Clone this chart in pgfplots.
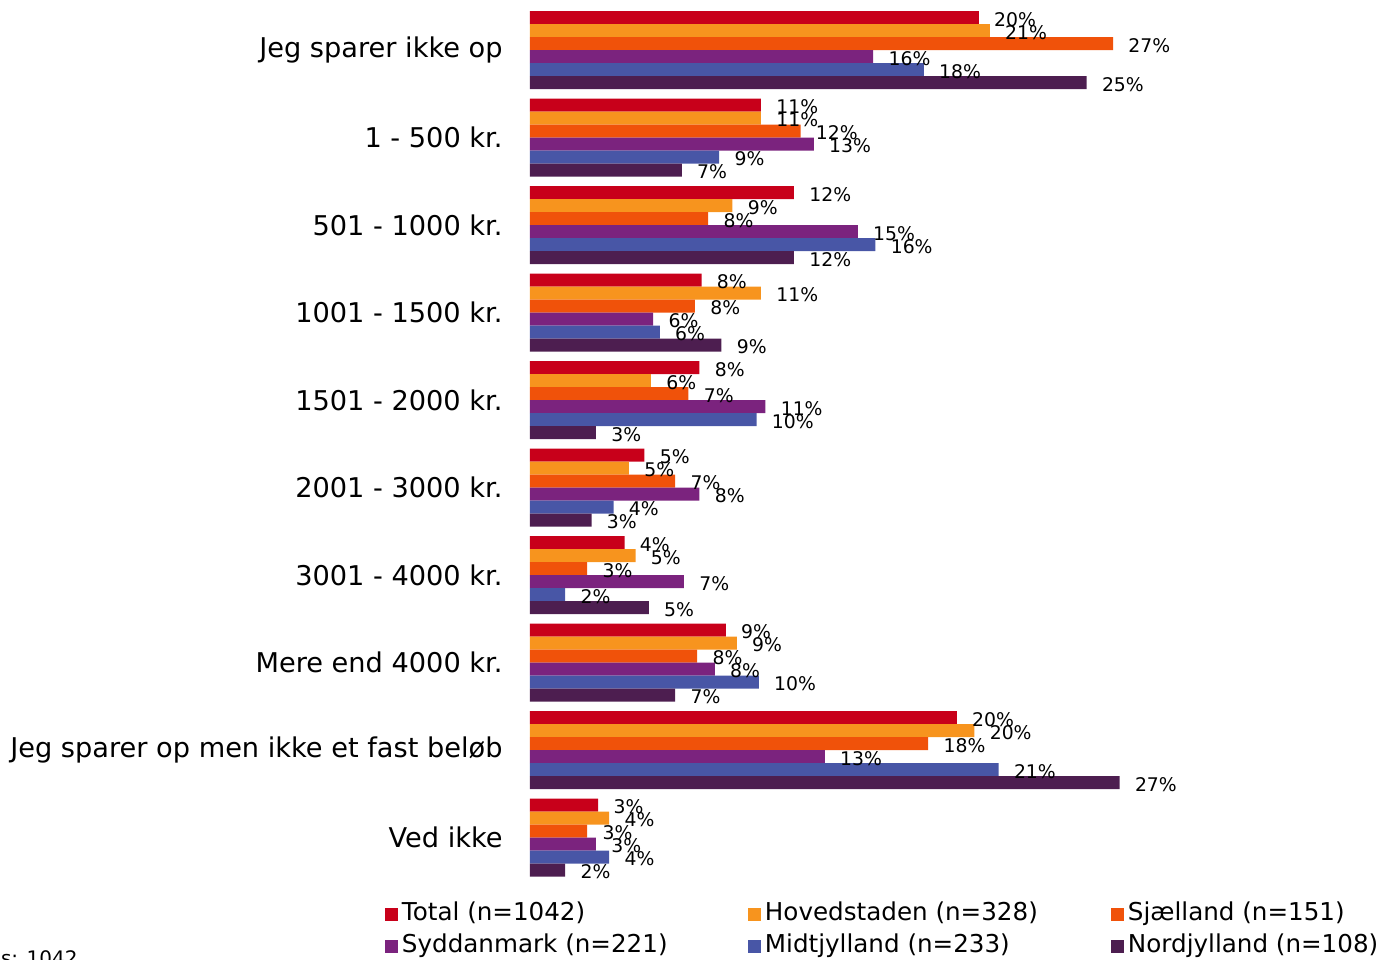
\documentclass[border=0pt]{standalone}
\usepackage{fontspec}
\setmainfont{DejaVu Sans}
\usepackage{pgfplots}
\usepackage{pgfplotstable}
\pgfplotsset{compat=1.18}

\definecolor{cTot}{RGB}{200,0,26}
\definecolor{cHov}{RGB}{247,148,30}
\definecolor{cSja}{RGB}{240,82,10}
\definecolor{cSyd}{RGB}{123,35,126}
\definecolor{cMid}{RGB}{72,86,166}
\definecolor{cNor}{RGB}{77,30,80}

% bar length (%) and printed label per region
\pgfplotstableread{
idx T    Tl H    Hl S    Sl Sy   Syl M    Ml N    Nl
0   20.4 20 20.9 21 26.5 27 15.6 16  17.9 18 25.3 25
1   10.5 11 10.5 11 12.3 12 12.9 13  8.6  9  6.9  7
2   12.0 12 9.2  9  8.1  8  14.9 15  15.7 16 12.0 12
3   7.8  8  10.5 11 7.5  8  5.6  6   5.9  6  8.7  9
4   7.7  8  5.5  6  7.2  7  10.7 11  10.3 10 3.0  3
5   5.2  5  4.5  5  6.6  7  7.7  8   3.8  4  2.8  3
6   4.3  4  4.8  5  2.6  3  7.0  7   1.6  2  5.4  5
7   8.9  9  9.4  9  7.6  8  8.4  8   10.4 10 6.6  7
8   19.4 20 20.2 20 18.1 18 13.4 13  21.3 21 26.8 27
9   3.1  3  3.6  4  2.6  3  3.0  3   3.6  4  1.6  2
}\datatable

\begin{document}
\begin{tikzpicture}
\begin{axis}[
    at={(0,0)}, anchor=north west,
    scale only axis, width=330pt, height=437.5pt,
    xmin=0, xmax=30, ymin=-0.5, ymax=9.5,
    y dir=reverse,
    xbar=0pt, bar width=6.5pt,
    axis line style={draw=none},
    tick style={draw=none},
    major tick length=0pt,
    xtick=\empty,
    ytick={0,...,9},
    yticklabels={Jeg sparer ikke op, 1 - 500 kr., 501 - 1000 kr., 1001 - 1500 kr., 1501 - 2000 kr., 2001 - 3000 kr., 3001 - 4000 kr., Mere end 4000 kr., Jeg sparer op men ikke et fast beløb, Ved ikke},
    yticklabel style={font=\fontsize{13.6}{15}\selectfont, inner sep=0pt, xshift=-13.5pt},
    clip=false,
    point meta=explicit symbolic,
    nodes near coords={\pgfplotspointmeta\%},
    nodes near coords style={font=\fontsize{9.4}{10}\selectfont, anchor=west, inner sep=0pt, xshift=7.5pt, yshift=-1pt},
    legend columns=3,
    legend image code/.code={\fill[#1] (0pt,-3.25pt) rectangle (6.5pt,3.25pt);},
    legend style={at={(axis description cs:0,0)}, anchor=north west,
        xshift=-72.5pt, yshift=-11.15pt, draw=none, fill=none,
        inner sep=0pt, outer sep=0pt, row sep=5.5pt,
        font=\fontsize{12.3}{14}\selectfont,
        nodes={inner sep=0pt, text height=8.5pt, text depth=2pt},
        /tikz/every odd column/.append style={column sep=2pt}},
]
\addplot[fill=cTot, draw=none, bar shift=16.25pt] table[x=T, y=idx, meta=Tl] {\datatable};
\addlegendentry{\makebox[173pt][l]{Total (n=1042)}}
\addplot[fill=cHov, draw=none, bar shift=9.75pt] table[x=H, y=idx, meta=Hl] {\datatable};
\addlegendentry{\makebox[173pt][l]{Hovedstaden (n=328)}}
\addplot[fill=cSja, draw=none, bar shift=3.25pt] table[x=S, y=idx, meta=Sl] {\datatable};
\addlegendentry{\makebox[130pt][l]{Sjælland (n=151)}}
\addplot[fill=cSyd, draw=none, bar shift=-3.25pt] table[x=Sy, y=idx, meta=Syl] {\datatable};
\addlegendentry{\makebox[173pt][l]{Syddanmark (n=221)}}
\addplot[fill=cMid, draw=none, bar shift=-9.75pt] table[x=M, y=idx, meta=Ml] {\datatable};
\addlegendentry{\makebox[173pt][l]{Midtjylland (n=233)}}
\addplot[fill=cNor, draw=none, bar shift=-16.25pt] table[x=N, y=idx, meta=Nl] {\datatable};
\addlegendentry{\makebox[130pt][l]{Nordjylland (n=108)}}
\end{axis}
\pgfresetboundingbox
\path[use as bounding box] (-265pt,3.125pt) rectangle (424.5pt,-476.375pt);
\node[overlay, anchor=base east, inner sep=0pt, font=\fontsize{10}{12}\selectfont] at (-226pt,-479.7pt) {Basis: 1042};
\end{tikzpicture}
\end{document}
